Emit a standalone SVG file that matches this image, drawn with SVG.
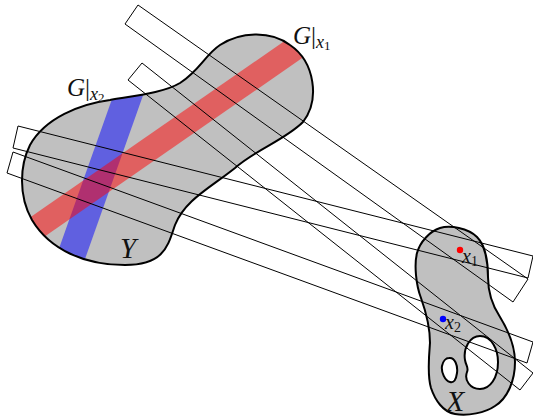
<svg xmlns="http://www.w3.org/2000/svg" width="533" height="417" viewBox="0 0 533 417">
<style>
.blob{fill:#c0c0c0;stroke:none}
.outline{fill:none;stroke:#000;stroke-width:2;stroke-linejoin:round}
.strip{fill:none;stroke:#000;stroke-width:1;stroke-linejoin:miter}
.lab{font-family:"Liberation Serif","DejaVu Serif",serif;font-style:italic;fill:#111}
.up{font-family:"Liberation Serif","DejaVu Serif",serif;fill:#111}
</style>
<defs>
<path id="yshape" d="M 110,100 C 140,95 165,92 180,83 C 200,70 205,55 220,45 C 240,32 270,30 290,45 C 315,62 320,100 303,122 C 285,140 255,150 235,168 C 210,188 185,200 175,225 C 168,245 165,265 125,265 C 85,265 50,250 32,220 C 18,195 20,165 30,145 C 45,118 80,104 110,100 Z"/>
<clipPath id="yclip"><use href="#yshape"/></clipPath>
</defs>
<g id="Y">
<use href="#yshape" class="blob"/>
<g clip-path="url(#yclip)">
<line x1="140" y1="62" x2="62" y2="282" stroke="#0000ff" stroke-opacity="0.5" stroke-width="28"/>
<line x1="10" y1="246" x2="320" y2="31" stroke="#ff0000" stroke-opacity="0.5" stroke-width="24"/>
</g>
<use href="#yshape" class="outline"/>
<text class="lab" x="120" y="258" font-size="29">Y</text>
</g>
<g id="X">
<path class="blob" fill-rule="evenodd" d="M 440,228 C 450,225 468,228 477,237 C 485,245 488,262 488,277 C 488,290 492,305 500,317 C 508,330 515,345 515,362 C 515,380 508,398 495,406 C 485,413 468,416 455,414 C 443,412 435,400 431,388 C 427,375 429,355 430,343 C 430,330 426,312 421,298 C 416,285 414,265 417,253 C 420,242 430,231 440,228 Z M 480,336 C 492,336 498,350 498,362 C 498,378 490,389 480,389 C 470,389 464,380 467,372 C 469,368 466,366 465,360 C 463,348 470,336 480,336 Z M 449,358 C 455,357 458,366 457,373 C 456,380 454,383 450,382 C 445,381 441,372 442,366 C 443,361 446,358 449,358 Z"/>
<path class="outline" d="M 440,228 C 450,225 468,228 477,237 C 485,245 488,262 488,277 C 488,290 492,305 500,317 C 508,330 515,345 515,362 C 515,380 508,398 495,406 C 485,413 468,416 455,414 C 443,412 435,400 431,388 C 427,375 429,355 430,343 C 430,330 426,312 421,298 C 416,285 414,265 417,253 C 420,242 430,231 440,228 Z M 480,336 C 492,336 498,350 498,362 C 498,378 490,389 480,389 C 470,389 464,380 467,372 C 469,368 466,366 465,360 C 463,348 470,336 480,336 Z M 449,358 C 455,357 458,366 457,373 C 456,380 454,383 450,382 C 445,381 441,372 442,366 C 443,361 446,358 449,358 Z"/>
<text class="lab" x="446" y="411" font-size="30">X</text>
</g>
<g id="strips">
<polygon class="strip" points="138,5 528,279 513,302 125,24"/>
<polygon class="strip" points="142,63 533,373 520,390 128,80"/>
<polygon class="strip" points="18,126 533,256 528,278 13,148"/>
<polygon class="strip" points="13,152 533,342 527,363 7,173"/>
</g>
<g id="points">
<circle cx="460" cy="250" r="3.2" fill="#ff0000"/>
<text class="lab" x="462" y="263" font-size="20">x<tspan font-style="normal" font-size="14" dy="3">1</tspan></text>
<circle cx="443" cy="319" r="3.2" fill="#0000ff"/>
<text class="lab" x="445" y="329" font-size="20">x<tspan font-style="normal" font-size="14" dy="3">2</tspan></text>
</g>
<g id="labels">
<text class="lab" x="293" y="44" font-size="25">G<tspan class="up" font-style="normal">|</tspan><tspan font-size="18" dy="4">x</tspan><tspan font-style="normal" font-size="13" dy="2">1</tspan></text>
<text class="lab" x="67" y="96" font-size="25">G<tspan class="up" font-style="normal">|</tspan><tspan font-size="18" dy="4">x</tspan><tspan font-style="normal" font-size="13" dy="2">2</tspan></text>
</g>
</svg>
